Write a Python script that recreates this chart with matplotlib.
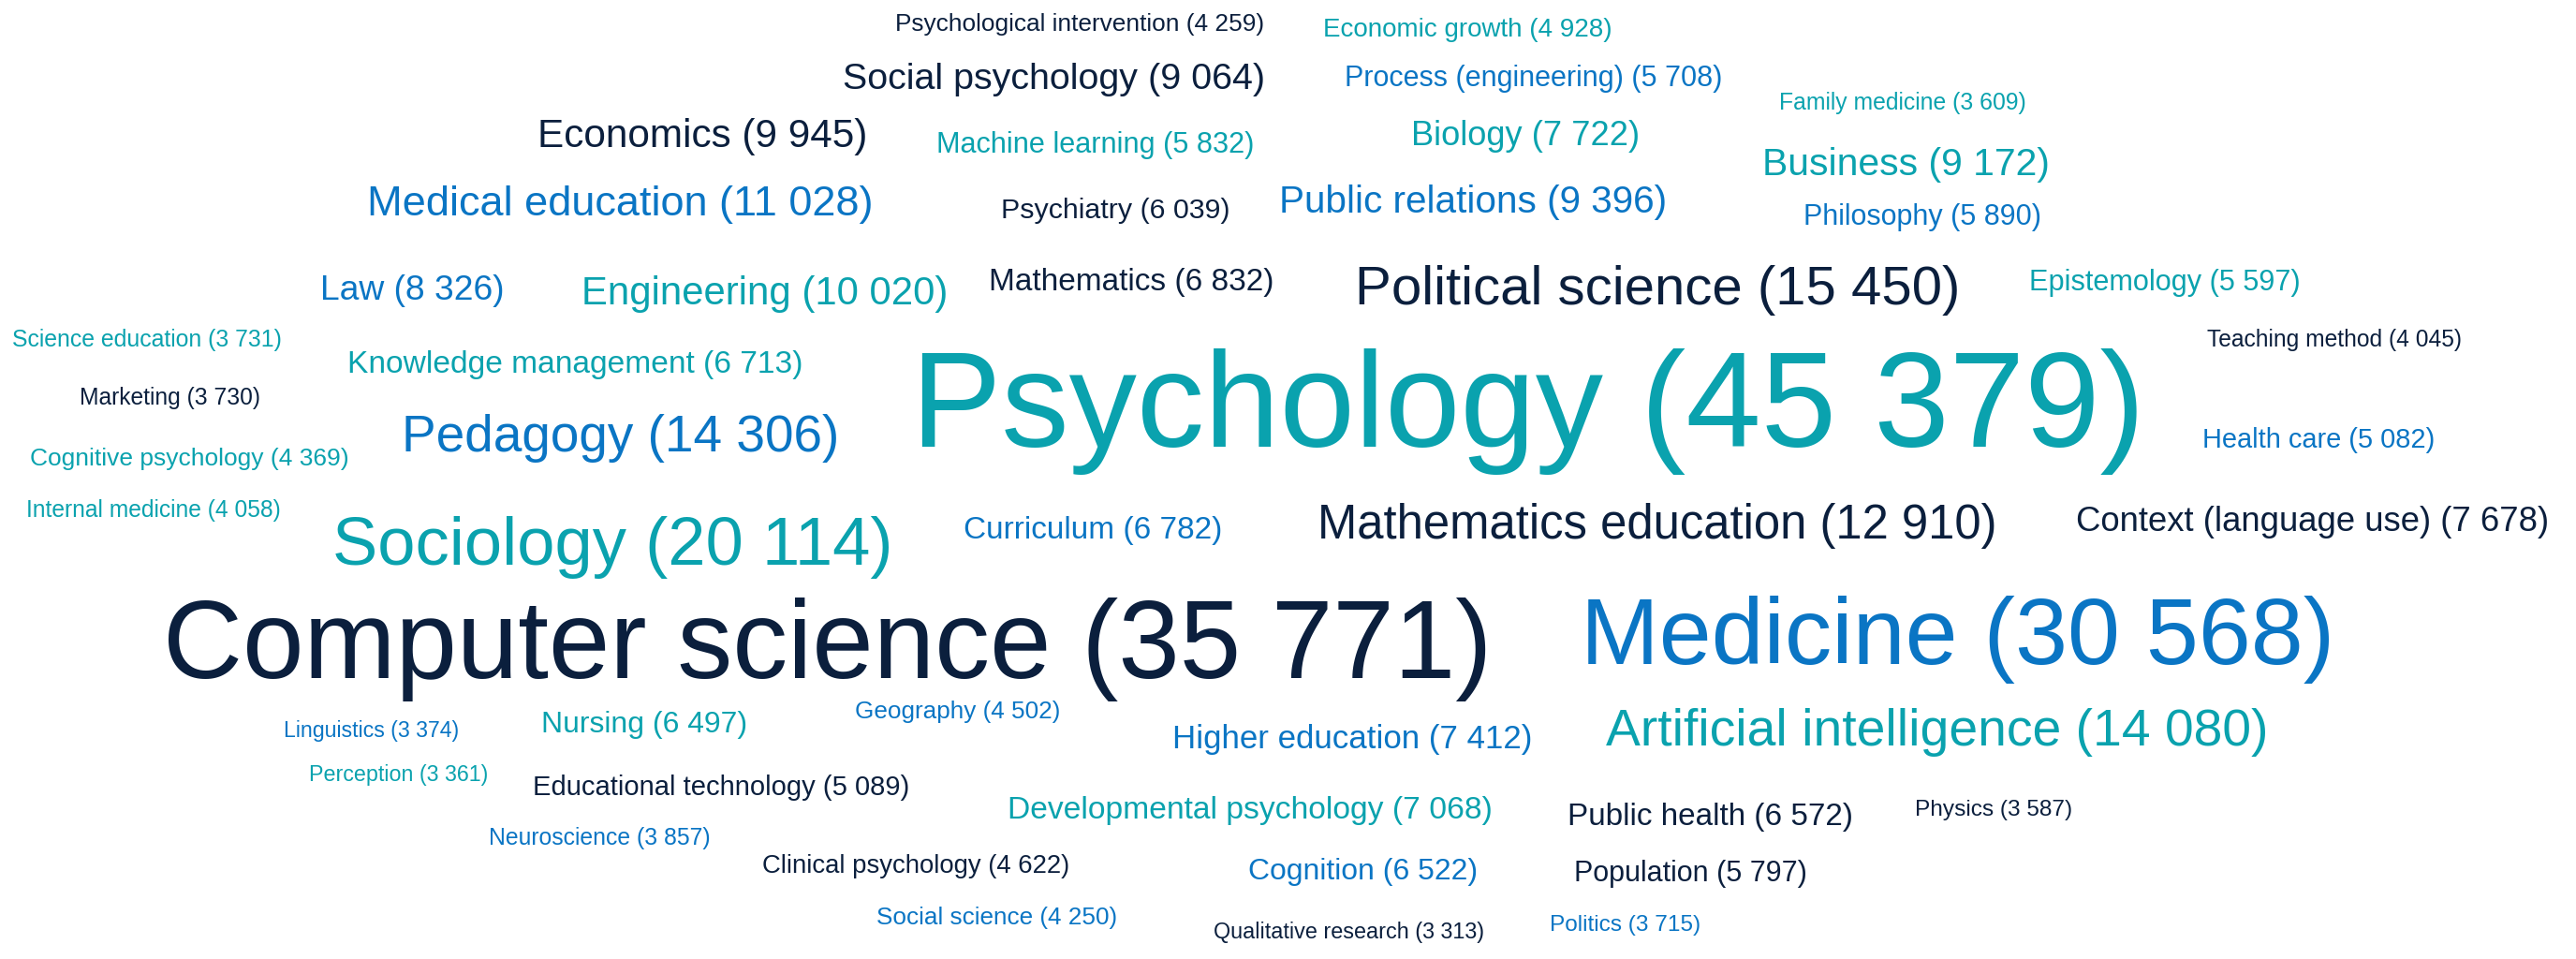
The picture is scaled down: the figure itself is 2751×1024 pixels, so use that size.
import matplotlib
matplotlib.use("Agg")
import matplotlib.pyplot as plt

# ---- data ----
topics = [
    "Psychological intervention", "Economic growth", "Social psychology", "Process (engineering)",
    "Family medicine", "Economics", "Machine learning", "Biology", "Business", "Medical education",
    "Psychiatry", "Public relations", "Philosophy", "Law", "Engineering", "Mathematics",
    "Political science", "Epistemology", "Science education", "Knowledge management",
    "Teaching method", "Marketing", "Psychology", "Pedagogy", "Cognitive psychology",
    "Health care", "Internal medicine", "Sociology", "Curriculum", "Mathematics education",
    "Context (language use)", "Computer science", "Medicine", "Linguistics", "Nursing",
    "Geography", "Higher education", "Artificial intelligence", "Perception",
    "Educational technology", "Developmental psychology", "Public health", "Physics",
    "Neuroscience", "Clinical psychology", "Cognition", "Population", "Social science",
    "Qualitative research", "Politics",
]
counts = [
    4259, 4928, 9064, 5708, 3609, 9945, 5832, 7722, 9172, 11028,
    6039, 9396, 5890, 8326, 10020, 6832, 15450, 5597, 3731, 6713,
    4045, 3730, 45379, 14306, 4369, 5082, 4058, 20114, 6782, 12910,
    7678, 35771, 30568, 3374, 6497, 4502, 7412, 14080, 3361, 5089,
    7068, 6572, 3587, 3857, 4622, 6522, 5797, 4250, 3313, 3715,
]
# colour group: 0 = navy, 1 = blue, 2 = teal
groups = [
    0, 2, 0, 1, 2, 0, 2, 2, 2, 1,
    0, 1, 1, 1, 2, 0, 0, 2, 2, 2,
    0, 0, 2, 1, 2, 1, 2, 2, 1, 0,
    0, 0, 1, 1, 2, 1, 1, 2, 2, 0,
    2, 0, 0, 1, 0, 1, 0, 1, 0, 1,
]

# ---- layout (pixel positions of each label: left, right, baseline) ----
left = [
    956, 1413, 900, 1436, 1900, 574, 1000, 1507, 1882, 392,
    1069, 1366, 1926, 342, 621, 1056, 1447, 2167, 13, 371,
    2357, 85, 973, 429, 32, 2352, 28, 355, 1029, 1407,
    2217, 174, 1688, 303, 578, 913, 1252, 1715, 330, 569,
    1076, 1674, 2045, 522, 814, 1333, 1681, 936, 1296, 1655,
]
right = [
    1352, 1723, 1353, 1842, 2165, 927, 1341, 1753, 2189, 935,
    1315, 1782, 2181, 540, 1014, 1362, 2096, 2457, 304, 859,
    2631, 279, 2294, 898, 373, 2602, 302, 956, 1307, 2136,
    2725, 1599, 2497, 491, 798, 1134, 1638, 2426, 522, 972,
    1595, 1980, 2214, 760, 1145, 1579, 1931, 1194, 1586, 1817,
]
baseline = [
    33, 39, 95, 92, 117, 157, 163, 155, 187, 230,
    233, 227, 240, 320, 325, 310, 325, 310, 370, 398,
    370, 432, 477, 482, 497, 478, 552, 603, 575, 575,
    567, 724, 709, 787, 782, 767, 799, 796, 834, 849,
    874, 881, 871, 902, 932, 939, 941, 987, 1002, 994,
]

palette = {0: "#0b1f3d", 1: "#0a75c4", 2: "#0aa2ae"}
W, H = 2751, 1024

fig = plt.figure(figsize=(W / 100, H / 100), dpi=100)
ax = fig.add_axes([0, 0, 1, 1])
ax.set_xlim(0, W)
ax.set_ylim(H, 0)
ax.axis("off")
fig.patch.set_facecolor("white")

renderer = fig.canvas.get_renderer()
for name, n, g, x0, x1, yb in zip(topics, counts, groups, left, right, baseline):
    label = f"{name} ({n:,})".replace(",", " ")
    t = ax.text(x0, yb, label, ha="left", va="baseline", fontsize=10,
                family="Liberation Sans", color=palette[g])
    w = t.get_window_extent(renderer).width
    t.set_fontsize(10 * (x1 - x0) / w)

fig.savefig("out.png", dpi=100, facecolor="white")
